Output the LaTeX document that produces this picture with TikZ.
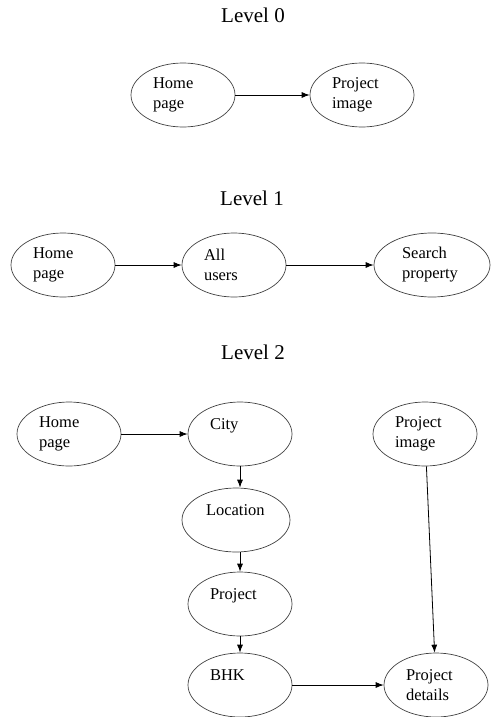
\documentclass[tikz,border=0pt]{standalone}
\usepackage{fontspec}
\setmainfont{Liberation Serif}
\usetikzlibrary{shapes.geometric,arrows.meta}

\begin{document}
\begin{tikzpicture}[x=1pt,y=-1pt,>={Latex[length=8pt,width=6pt]},
  screen/.style={draw=black!75,line width=0.7pt,ellipse,minimum width=104pt,minimum height=64pt,inner sep=0pt,
    align=left,text width=60pt,font=\fontsize{16.5}{20}\selectfont},
  level/.style={font=\fontsize{21}{24}\selectfont}]
\useasboundingbox (0,0) rectangle (492,717);

% Level 0

\node[level] (lz) at (253,15) {Level 0};
\node[screen] (home0) at (183,95) {Home\\page};
\node[screen] (image0) at (362,95) {Project\\image};
\draw[->,thick] (home0) -- (image0);


% Level 1

\node[level] (lo) at (252,198) {Level 1};
\node[screen] (home1) at (63,265) {Home\\page};
\node[screen] (users1) at (234,265) {All\\users};
\node[screen,minimum width=116pt] (search1) at (432,265) {Search\\property};
\draw[->,thick] (home1) -- (users1);
\draw[->,thick] (users1) -- (search1);


% Level 2

\node[level] (lt) at (253,352) {Level 2};
\node[screen] (home2) at (69,434) {Home\\page};
\node[screen] (city2) at (240,434) {City\\~};
\node[screen] (image2) at (425,434) {Project\\image};
\node[screen,minimum width=108pt] (loc2) at (236,520) {Location\\~};
\node[screen] (proj2) at (240,604) {Project\\~};
\node[screen] (bhk2) at (240,685) {BHK\\~};
\node[screen] (details2) at (436,685) {Project\\details};
\draw[->,thick] (home2) -- (city2);
\draw[->,thick] (city2) -- (proj2 |- loc2.north);
\draw[->,thick] (proj2 |- loc2.south) -- (proj2);
\draw[->,thick] (proj2) -- (bhk2);
\draw[->,thick] (bhk2) -- (details2);
\draw[->,thick] (image2) -- (details2);

\end{tikzpicture}
\end{document}
